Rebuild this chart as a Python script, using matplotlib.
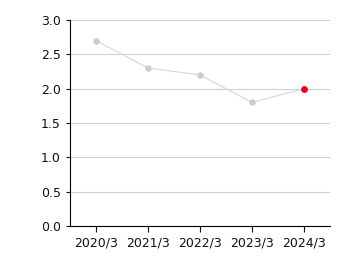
import matplotlib
matplotlib.use("Agg")
import matplotlib.pyplot as plt

categories = ["2020/3", "2021/3", "2022/3", "2023/3", "2024/3"]
values = [2.7, 2.3, 2.2, 1.8, 2.0]
yticks = [0.0, 0.5, 1.0, 1.5, 2.0, 2.5, 3.0]

fig = plt.figure(figsize=(3.4, 2.56), dpi=100)
ax = fig.add_axes([70/340, 30/256, 260/340, 206/256])
x = list(range(len(categories)))
ax.plot(x, values, color="#d9d9d9", lw=0.9, zorder=2)
ax.scatter(x[:-1], values[:-1], s=22, color="#cccccc", zorder=3, linewidths=0)
ax.scatter(x[-1:], values[-1:], s=24, color="#e60012", zorder=4, linewidths=0)
ax.set_xlim(-0.5, len(categories) - 0.5)
ax.set_ylim(0, 3.0)
ax.set_yticks(yticks)
ax.set_yticklabels([f"{v:.1f}" for v in yticks])
ax.set_xticks(x)
ax.set_xticklabels(categories)
ax.grid(axis="y", color="#d0d0d0", lw=0.8)
ax.set_axisbelow(True)
for s in ["top", "right"]:
    ax.spines[s].set_visible(False)
for s in ["left", "bottom"]:
    ax.spines[s].set_color("#000000")
    ax.spines[s].set_linewidth(0.8)
ax.tick_params(axis="both", labelsize=9, colors="#111111", length=4, width=0.8)
ax.tick_params(axis="y", length=3)
fig.savefig("out.png", dpi=100)
